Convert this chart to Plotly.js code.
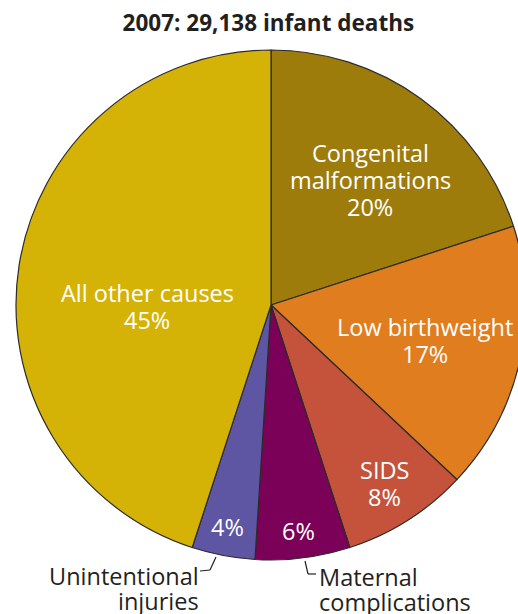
<!DOCTYPE html>
<html>
<head>
<meta charset="utf-8">
<script src="https://cdn.plot.ly/plotly-3.0.1.min.js"></script>
<style>
html,body{margin:0;padding:0;overflow:hidden;background:#fff;width:518px;height:614px;}
#chart{width:540px;height:614px;}
</style>
</head>
<body>
<div id="chart"></div>
<script>
// Data
const categories = ["Congenital malformations", "Low birthweight", "SIDS", "Maternal complications", "Unintentional injuries", "All other causes"];
const insideLines = [["Congenital", "malformations"], ["Low birthweight"], ["SIDS"], [], [], ["All other causes"]];
const outsideLines = [["Unintentional", "injuries"], ["Maternal", "complications"]];
const values = [20, 17, 8, 6, 4, 45];
const colors = ["#9E7C0C", "#E07D1E", "#C5533B", "#7A0058", "#5E55A3", "#D5B306"];
const titleText = "2007: 29,138 infant deaths";

// Layout (page-pixel positions for label placement)
const W = 540, H = 614;
const px = x => x / W;
const py = y => 1 - y / H;
const labelPos = [[370, 153], [425, 327], [385, 470], [298, 531], [227, 527], [147, 293]];
const insideStep = 27;
const outsidePos = [[201, 576, "right"], [317, 577, "left"]];
const outsideStep = 24.5;

const font = "Open Sans, Noto Sans, sans-serif";
const fs = 23.5;
const annotations = [];
values.forEach((v, i) => {
  const lines = insideLines[i].concat([v + "%"]);
  lines.forEach((t, j) => {
    annotations.push({
      x: px(labelPos[i][0]), y: py(labelPos[i][1] + j * insideStep), xref: "paper", yref: "paper",
      text: t, showarrow: false, xanchor: "center", yanchor: "middle",
      font: {family: font, size: fs, color: "#ffffff"}
    });
  });
});
outsideLines.forEach((lines, i) => {
  lines.forEach((t, j) => {
    annotations.push({
      x: px(outsidePos[i][0]), y: py(outsidePos[i][1] + j * outsideStep), xref: "paper", yref: "paper",
      text: t, showarrow: false, xanchor: outsidePos[i][2], yanchor: "middle",
      font: {family: font, size: fs, color: "#231f20"}
    });
  });
});

const lineStyle = {color: "#231f20", width: 1.2};
const seg = (a, b) => ({type: "line", xref: "paper", yref: "paper", x0: px(a[0]), y0: py(a[1]), x1: px(b[0]), y1: py(b[1]), line: lineStyle});
const shapes = [
  seg([200, 571], [210, 570]), seg([210, 570], [216, 557]),
  seg([305, 561], [308, 574]), seg([308, 574], [316, 574])
];

const trace = {
  type: "pie",
  labels: categories,
  values: values,
  sort: false,
  direction: "clockwise",
  rotation: 0,
  marker: {colors: colors, line: {color: "#2b2b2b", width: 1.2}},
  textinfo: "none",
  hoverinfo: "label+percent",
  domain: {x: [px(16), px(526)], y: [py(560), py(50)]},
  showlegend: false
};

const layout = {
  width: W, height: H,
  margin: {l: 0, r: 0, t: 0, b: 0},
  paper_bgcolor: "#ffffff",
  title: {text: "<b>" + titleText + "</b>", x: 0.497, xanchor: "center", y: py(23), yanchor: "middle", yref: "paper",
          font: {family: font, size: 22.5, color: "#231f20"}},
  annotations: annotations,
  shapes: shapes,
  showlegend: false
};

Plotly.newPlot("chart", [trace], layout, {displayModeBar: false, staticPlot: true});
</script>
</body>
</html>
